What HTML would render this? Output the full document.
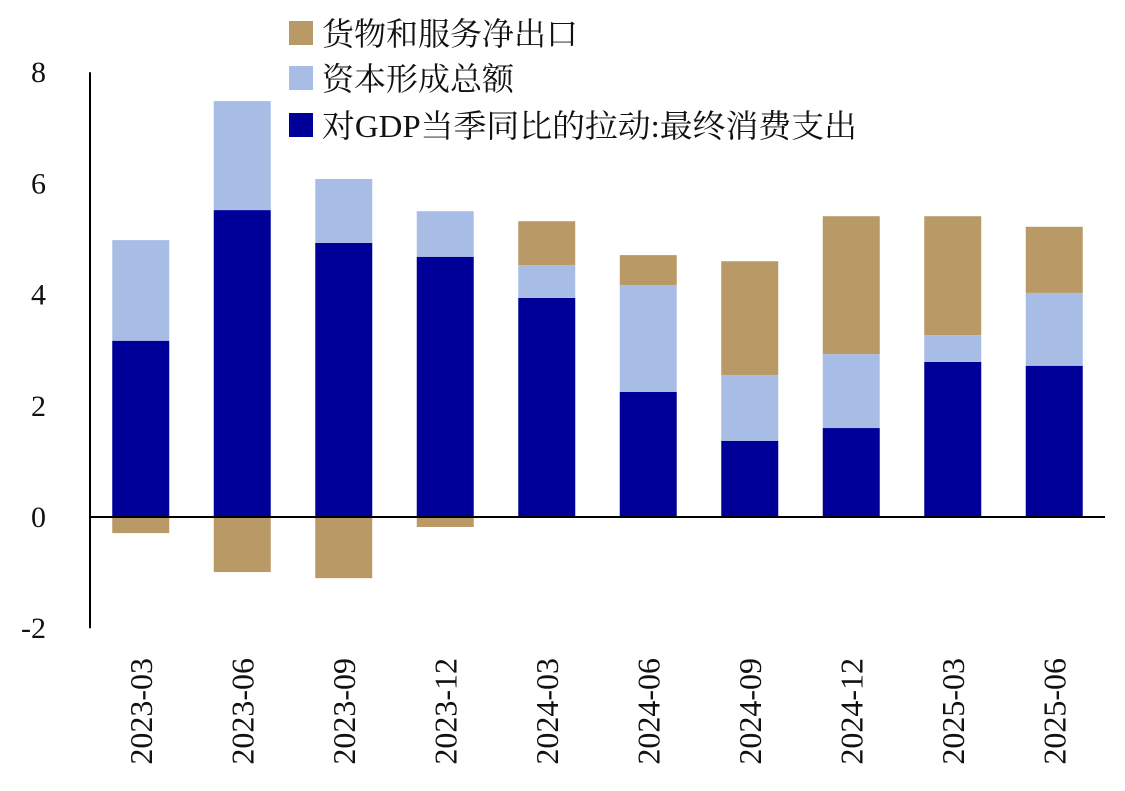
<!DOCTYPE html>
<html><head><meta charset="utf-8"><style>
body{margin:0;background:#fff;}
svg text{font-family:"Liberation Serif","Noto Serif CJK SC",serif;fill:#111;}
</style></head><body>
<svg id="chart" width="1125" height="786" xmlns="http://www.w3.org/2000/svg">
<g id="legend">
 <g><rect x="289" y="21" width="24" height="24" fill="#b99a67"/><text x="322" y="45" font-size="32">货物和服务净出口</text></g>
 <g><rect x="289" y="66" width="24" height="24" fill="#a8bde6"/><text x="322" y="90" font-size="32">资本形成总额</text></g>
 <g><rect x="289" y="113" width="24" height="24" fill="#000099"/><text x="322" y="137" font-size="32" textLength="535" lengthAdjust="spacingAndGlyphs">对GDP当季同比的拉动:最终消费支出</text></g>
</g>
<g id="bars"></g>
<g id="axes"></g>
</svg>
<script>
const categories=["2023-03","2023-06","2023-09","2023-12","2024-03","2024-06","2024-09","2024-12","2025-03","2025-06"];
const consumption=[3.17,5.52,4.93,4.68,3.94,2.25,1.37,1.60,2.79,2.72];
const capital=[1.81,1.96,1.15,0.82,0.59,1.92,1.18,1.33,0.48,1.31];
const netExports=[-0.29,-0.99,-1.10,-0.18,0.79,0.54,2.05,2.48,2.14,1.19];
const yTicks=[8,6,4,2,0,-2];
const colors={cons:"#000099",cap:"#a8bde6",net:"#b99a67"};
const NS="http://www.w3.org/2000/svg";
const x0=90,x1=1105,bandW=(x1-x0)/categories.length,barW=57;
function y(v){return 517-v*55.6;}
function xc(i){return x0+bandW*(i+0.5);}
const bars=document.getElementById('bars'),axes=document.getElementById('axes');
function mk(tag,attrs,parent){const e=document.createElementNS(NS,tag);for(const k in attrs)e.setAttribute(k,attrs[k]);parent.appendChild(e);return e;}
categories.forEach((c,i)=>{
  let pos=0,neg=0;
  const segs=[[consumption[i],colors.cons,'consumption'],[capital[i],colors.cap,'capital'],[netExports[i],colors.net,'net-exports']];
  segs.forEach(([v,col,nm])=>{
    let a,b;
    if(v>=0){a=pos;b=pos+v;pos=b;}else{a=neg;b=neg+v;neg=b;}
    const r=mk('rect',{x:xc(i)-barW/2,y:Math.min(y(a),y(b)),width:barW,height:Math.abs(y(a)-y(b)),fill:col},bars);
    
    
  });
  const t=mk('text',{x:0,y:0,'font-size':32,'text-anchor':'end',transform:`translate(${xc(i)+11},658) rotate(-90)`},axes);
  t.textContent=c;
  
  
});
const ya=mk('line',{x1:x0,x2:x0,y1:y(8),y2:y(-2),stroke:'#000','stroke-width':2},axes);


const xa=mk('line',{x1:x0,x2:x1,y1:y(0),y2:y(0),stroke:'#000','stroke-width':2},axes);


yTicks.forEach(v=>{
  const t=mk('text',{x:46,y:y(v)+10,'font-size':30,'text-anchor':'end'},axes);
  t.textContent=v;
  
  
});
</script>
</body></html>
